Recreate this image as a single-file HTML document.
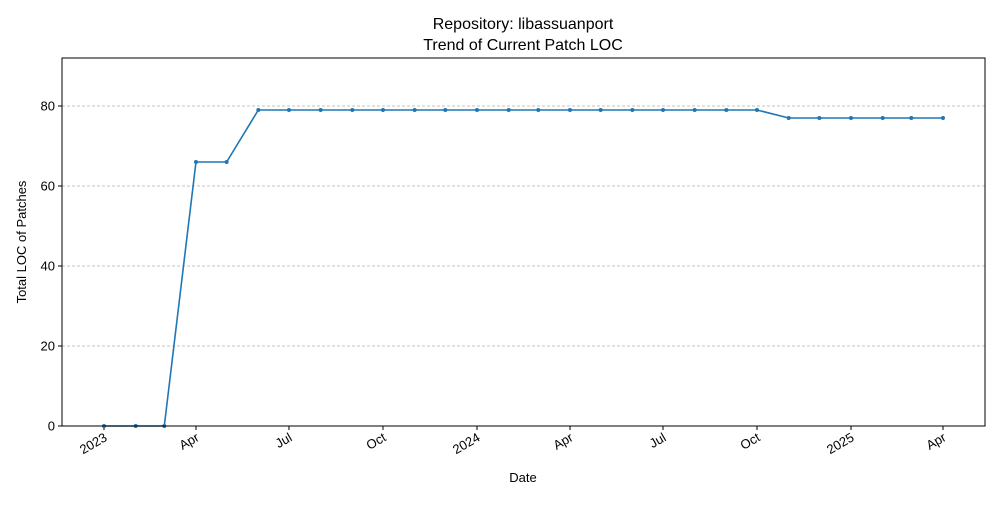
<!DOCTYPE html>
<html><head><meta charset="utf-8"><style>
body{margin:0;background:#fff;}
svg text{font-family:"Liberation Sans","DejaVu Sans",sans-serif;fill:#000;}
</style></head><body>
<svg id="chart" width="1000" height="500">
<rect width="1000" height="500" fill="#fff"/>
<text x="523" y="29" font-size="16" text-anchor="middle">Repository: libassuanport</text>
<text x="523" y="50" font-size="16" text-anchor="middle">Trend of Current Patch LOC</text>
<g id="grid"></g><g id="yaxis"></g><g id="xaxis"></g><g id="series"></g>
<rect x="62" y="58" width="923" height="368" fill="none" stroke="#000" stroke-width="1"/>
<text x="523" y="482" font-size="13" text-anchor="middle">Date</text>
<text transform="translate(26,242) rotate(-90)" font-size="13" text-anchor="middle">Total LOC of Patches</text>
</svg>
<script>
const dates=["2023-01-01","2023-02-01","2023-03-01","2023-04-01","2023-05-01","2023-06-01","2023-07-01","2023-08-01","2023-09-01","2023-10-01","2023-11-01","2023-12-01","2024-01-01","2024-02-01","2024-03-01","2024-04-01","2024-05-01","2024-06-01","2024-07-01","2024-08-01","2024-09-01","2024-10-01","2024-11-01","2024-12-01","2025-01-01","2025-02-01","2025-03-01","2025-04-01"];
const values=[0,0,0,66,66,79,79,79,79,79,79,79,79,79,79,79,79,79,79,79,79,79,77,77,77,77,77,77];
const yTicks=[0,20,40,60,80];
const xTickDates=["2023-01-01","2023-04-01","2023-07-01","2023-10-01","2024-01-01","2024-04-01","2024-07-01","2024-10-01","2025-01-01","2025-04-01"];
const xTickLabels=["2023","Apr","Jul","Oct","2024","Apr","Jul","Oct","2025","Apr"];
const NS="http://www.w3.org/2000/svg";
const L=62,R=985,T=58,B=426;
const d0=Date.UTC(2023,0,1),DAY=86400000;
const dmin=-41.1,dmax=862.1,ymax=92;
function days(s){const p=s.split("-");return (Date.UTC(+p[0],p[1]-1,+p[2])-d0)/DAY;}
function x(s){return L+(days(s)-dmin)/(dmax-dmin)*(R-L);}
function y(v){return B-v/ymax*(B-T);}
function mk(tag,a,parent){const e=document.createElementNS(NS,tag);for(const k in a)e.setAttribute(k,a[k]);document.getElementById(parent).appendChild(e);return e;}
yTicks.forEach(v=>{
 if(v>0){const g=mk("line",{x1:L,x2:R,y1:y(v),y2:y(v),stroke:"#b0b0b0","stroke-width":0.7,"stroke-dasharray":"3,2"},"grid");
 
 }
 const t=mk("line",{x1:L-4,x2:L,y1:y(v),y2:y(v),stroke:"#000"},"yaxis");
 
 
 const tx=mk("text",{x:L-7,y:y(v)+4.5,"font-size":13,"text-anchor":"end"},"yaxis");tx.textContent=v;
 
 
});
xTickDates.forEach((d,i)=>{
 const xx=x(d);
 const t=mk("line",{x1:xx,x2:xx,y1:B,y2:B+4,stroke:"#000"},"xaxis");
 
 
 const tx=mk("text",{transform:`translate(${xx+4},${B+14}) rotate(-30)`,"font-size":13,"text-anchor":"end"},"xaxis");tx.textContent=xTickLabels[i];
 
 
});
const pl=mk("polyline",{points:dates.map((d,i)=>x(d)+","+y(values[i])).join(" "),fill:"none",stroke:"#1f77b4","stroke-width":1.6},"series");


dates.forEach((d,i)=>{
 const c=mk("circle",{cx:x(d),cy:y(values[i]),r:2,fill:"#1f77b4"},"series");
 
 
});
</script>
</body></html>
